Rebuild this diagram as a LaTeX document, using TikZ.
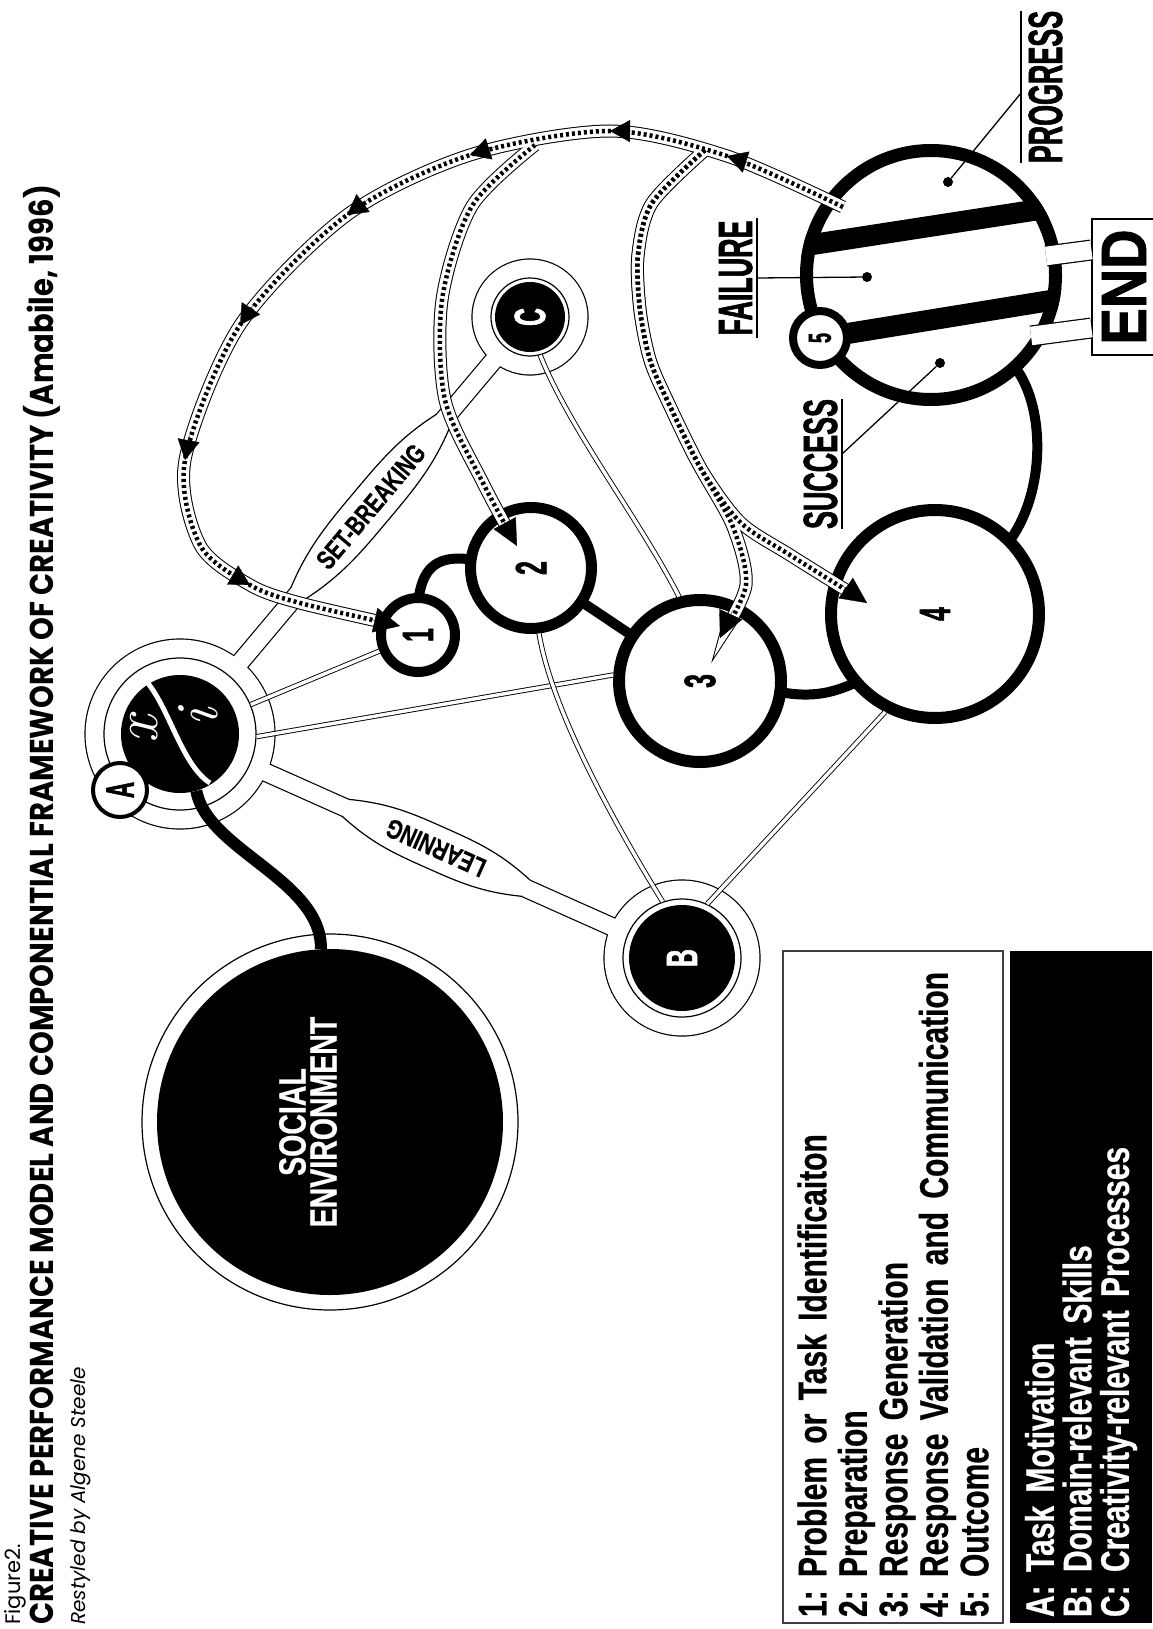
\documentclass[tikz,border=0pt]{standalone}
\usepackage{fontspec}
\usepackage{graphicx}
\newfontfamily\gothic[FakeStretch=0.56,FakeBold=1.2]{Liberation Sans Bold}
\newfontfamily\condfont[FakeStretch=0.75,FakeBold=0.6,WordSpace=0.8]{Liberation Sans Bold}
\newfontfamily\blockfont[FakeStretch=0.85,FakeBold=1.5]{Liberation Sans Bold}
\newfontfamily\titlefont[FakeStretch=0.88]{Poppins}
\newfontfamily\headfont{Poppins}
\usetikzlibrary{arrows.meta,calc}
\tikzset{
  midtip/.tip={Triangle[width=22pt,length=20pt]},
  endtip/.tip={Triangle[width=25pt,length=26pt]}
}
% feedback bands (drawn in passes)
\def\bandloop{plot[smooth] coordinates {($(out)+(-88,-68)$) (727,156) (610,131) (470,155) (347,215) (240,325) (185,460) (200,545) (250,585) (300,603) ($(c1)+(-18,-9)$)}}
\def\bandtwo{plot[smooth] coordinates {(fork2) (472,206) (442,300) (445,400) (483,483) ($(c2)+(-14,-22)$)}}
\def\bandthree{plot[smooth] coordinates {(fork34) (652,203) (638,255) (640,310) (650,360) (668,402) (700,467) (733,527) (746,585) ($(c3)+(20,-43)$)}}
\def\bandfour{plot[smooth] coordinates {(fork34) (652,203) (638,255) (640,310) (650,360) (668,402) (700,467) (740,522) (790,555) ($(c4)+(-68,-11)$)}}
\begin{document}
\begin{tikzpicture}[x=1pt,y=-1pt,
  lbl/.style={rotate=90,inner sep=0pt},
  stage/.style={circle,draw,fill=white,inner sep=0pt,font=\gothic\fontsize{44}{44}\selectfont},
  hubring/.style={circle,draw,line width=1.2pt,fill=white,inner sep=0pt},
  hubdisk/.style={circle,fill=black,inner sep=0pt,text=white,font=\gothic\fontsize{44}{44}\selectfont},
  link/.style={double=white,double distance=3.4pt,line width=0.9pt},
  bond/.style={line width=10pt,shorten <=-3pt,shorten >=-3pt},
  tag/.style={lbl,font=\gothic\fontsize{48}{48}\selectfont},
  rule/.style={line width=1.3pt},
  dot/.style={circle,fill,inner sep=0pt,minimum size=10pt},
  bar/.style={line width=21pt},
  lens/.style={line width=1.2pt},
  flow/.style={line width=0.3pt,-midtip},
  flowend/.style={line width=0.3pt,-endtip},
  tubetext/.style={font=\condfont\fontsize{27}{27}\selectfont,inner sep=0pt},
  legend/.style={lbl,minimum width=672pt,text width=660pt,inner xsep=6pt,align=left,font=\condfont\fontsize{40}{40.5}\selectfont\frenchspacing}]
\fill[white] (0,0) rectangle (1152,1629);
\useasboundingbox (0,0) rectangle (1152,1629);

% heading
\node[lbl,anchor=base west,font=\headfont\fontsize{21}{21}\selectfont] (fig) at (20,1625) {Figure2.};
\node[lbl,anchor=base west,font=\titlefont\bfseries\fontsize{33}{33}\selectfont] (title) at (53,1625) {CREATIVE PERFORMANCE MODEL AND COMPONENTIAL FRAMEWORK OF CREATIVITY (Amabile, 1996)};
\node[lbl,anchor=base west,font=\headfont\itshape\fontsize{20}{20}\selectfont] (credit) at (85,1625) {Restyled by Algene Steele};

% social environment
\draw[line width=1.2pt] (330,1122) circle (188pt);
\node[hubdisk,minimum size=346pt] (soc) at (330,1122) {};
\node[lbl,text=white,align=center,font=\condfont\fontsize{38}{31}\selectfont] (soctext) at (308,1122) {SOCIAL\\ENVIRONMENT};

% component hubs with their tubes
\coordinate (a) at (180,734);
\coordinate (b) at (682,958);
\coordinate (c) at (530,317);
\fill (a) circle (95.6pt) (b) circle (78.6pt) (c) circle (58.6pt);
\draw[line width=19.4pt] (a) -- (c) (a) -- (b);
\fill[white] (a) circle (94.4pt) (b) circle (77.4pt) (c) circle (57.4pt);
\draw[line width=17pt,white] (a) -- (c) (a) -- (b);
\begin{scope}[shift={(a)},rotate=50]
  \fill[white] (183,-9) .. controls (225,-22) and (255,-22) .. (297,-22) .. controls (339,-22) and (369,-22) .. (410,-9) -- (410,9) .. controls (369,22) and (339,22) .. (297,22) .. controls (255,22) and (225,22) .. (183,9) -- cycle;
  \draw[lens] (183,-9) .. controls (225,-22) and (255,-22) .. (297,-22) .. controls (339,-22) and (369,-22) .. (410,-9);
  \draw[lens] (183,9) .. controls (225,22) and (255,22) .. (297,22) .. controls (339,22) and (369,22) .. (410,9);
  \node[tubetext,rotate=50] (setbreak) at (297,0) {SET-BREAKING};
\end{scope}
\begin{scope}[shift={(a)},rotate=-24]
  \fill[white] (181,-9) .. controls (220,-22) and (245,-22) .. (280,-22) .. controls (315,-22) and (340,-22) .. (379,-9) -- (379,9) .. controls (340,22) and (315,22) .. (280,22) .. controls (245,22) and (220,22) .. (181,9) -- cycle;
  \draw[lens] (181,-9) .. controls (220,-22) and (245,-22) .. (280,-22) .. controls (315,-22) and (340,-22) .. (379,-9);
  \draw[lens] (181,9) .. controls (220,22) and (245,22) .. (280,22) .. controls (315,22) and (340,22) .. (379,9);
  \node[tubetext,rotate=156] (learning) at (280,0) {LEARNING};
\end{scope}
\node[hubring,minimum size=152pt] (Ai) at (a) {};
\node[hubdisk,minimum size=118pt] (Ax) at (a) {};
\node[hubring,minimum size=118pt] (Bi) at (b) {};
\node[hubdisk,minimum size=106pt] (B) at (b) {\rotatebox{90}{B}};
\node[hubring,minimum size=78pt] (Ci) at (c) {};
\node[hubdisk,minimum size=70pt] (C) at (c) {\rotatebox{90}{C}};
\draw[white,line width=5pt] (147,682) .. controls (170,710) and (182,765) .. (210,783);
\node[lbl,text=white,font=\rmfamily\itshape\fontsize{62}{62}\selectfont] (xsym) at (144,730) {x};
\node[lbl,text=white,font=\rmfamily\itshape\fontsize{60}{60}\selectfont] (isym) at (198,717) {i};
\node[circle,draw,line width=4pt,fill=white,minimum size=54pt,inner sep=0pt,font=\gothic\fontsize{40}{40}\selectfont] (Atag) at (120,790) {\rotatebox{90}{A}};

% stages
\node[stage,line width=10pt,minimum size=74pt] (c1) at (418,635) {\rotatebox{90}{1}};
\node[stage,line width=11pt,minimum size=121pt] (c2) at (531,568) {\rotatebox{90}{2}};
\node[stage,line width=12pt,minimum size=162pt] (c3) at (700,681) {\rotatebox{90}{3}};
\node[stage,line width=12pt,minimum size=208pt] (c4) at (935,614) {\rotatebox{90}{4}};
\node[stage,line width=13pt,minimum size=249pt] (out) at (931,275) {};
\node[stage,line width=8pt,minimum size=54pt,font=\gothic\fontsize{32}{32}\selectfont] (c5) at (820,338) {\rotatebox{90}{5}};
\node[lbl,draw,line width=1.2pt,fill=white,minimum width=136pt,minimum height=62pt,text height=46pt,text depth=0pt,font=\blockfont\fontsize{64}{64}\selectfont] (endbox) at (1123,287) {END};

% stage bonds
\draw[bond] (c1.88) .. controls (424,565) and (440,556) .. (c2.172);
\draw[bond] (c2) -- (c3);
\draw[bond] (c3.-8) .. controls (810,697) and (830,694) .. (c4.220);
\draw[bond] (c4.45) .. controls (1045,490) and (1045,410) .. (out.-48);

% component links
\draw[link] (Ai) -- (c1);
\draw[link] (Ai.-2) -- (c3.176);
\draw[link] (Bi.109) .. controls (600,800) and (550,700) .. (c2.-83);
\draw[link] (Bi.65) -- (c4.243);
\draw[link] (Ci.-75) .. controls (570,430) and (640,520) .. (c3.104);

% outcome split and exits
\begin{scope}
  \clip (out.center) circle (131pt);
  \draw[bar] (790,248) -- (1062,206);
  \draw[bar,shorten <=-4pt] (c5) -- (1072,297);
\end{scope}
\coordinate (failexit) at (1046,256);
\coordinate (succexit) at (1031,336);
\foreach \lw/\col in {21pt/black,18.6pt/white}
  \draw[line width=\lw,\col] (failexit) -- ($(endbox.north)+(0,-37)$) (succexit) -- ($(endbox.north)+(0,41)$);

% outcome labels
\node[tag,anchor=base] (fail) at (752,278) {FAILURE};
\node[tag,anchor=base] (succ) at (837,464) {SUCCESS};
\node[tag,anchor=base] (prog) at (1062,87) {PROGRESS};
\node[dot] (faildot) at (867,277) {};
\node[dot] (succdot) at (940,363) {};
\node[dot] (progdot) at (948,182) {};
\draw[rule] ($(fail.base west)+(5,2)$) -- ($(fail.base east)+(5,-2)$);
\draw[rule] ($(succ.base west)+(5,0)$) -- ($(succ.base east)+(5,0)$);
\draw[rule] ($(prog.base west)+(-41,0)$) -- ($(prog.base east)+(-41,0)$);
\draw[rule] ($(fail.base)+(5,0)$) -- (faildot);
\draw[rule] ($(succ.base)+(5,-10)$) -- (succdot);
\draw[rule] ($(prog.base)+(-41,6)$) -- (progdot);

% feedback bands
\coordinate (fork2) at (535,145);
\coordinate (fork34) at (705,150);
\foreach \lw/\col in {13pt/black,11pt/white}
  \foreach \p in {\bandloop,\bandtwo,\bandthree,\bandfour}
    \draw[line width=\lw,\col,shorten >=20pt] \p;
\foreach \p in {\bandloop,\bandtwo,\bandthree,\bandfour}
  \draw[line width=4.5pt,dash pattern=on 3pt off 3pt,shorten >=20pt] \p;
% heads along the loop
\draw[flow] (750.8,163.6) -- (727,156);
\draw[flow] (635,131.1) -- (610,131);
\draw[flow] (493.8,147.4) -- (470,155);
\draw[flow] (367.1,200.1) -- (347,215);
\draw[flow] (253.8,304.1) -- (240,325);
\draw[flow] (189.5,435.4) -- (185,460);
\draw[flow] (228.4,572.5) -- (250,585);
\draw[flowend] (370.8,619.3) -- ($(c1)+(-18,-9)$);
\draw[flowend] (502.8,519.6) -- ($(c2)+(-14,-22)$);
\draw[flowend] (732.4,610.7) -- ($(c3)+(20,-43)$);
\draw[flowend] (842.4,585.7) -- ($(c4)+(-68,-11)$);

% social environment feeds motivation
\draw[line width=12pt] (Ax.-74) .. controls (207,850) and (322,880) .. (soc.93);

% legend
\node[legend,draw=black!75,line width=2pt,fill=white,minimum height=220pt] (stages) at (893,1287) {1: Problem or Task Identificaiton\\2: Preparation\\3: Response Generation\\4: Response Validation and Communication\\5: Outcome};
\node[legend,fill=black,text=white,minimum height=142pt,font=\condfont\fontsize{40}{37.5}\selectfont\frenchspacing] (parts) at (1081,1287) {A: Task Motivation\\B: Domain-relevant Skills\\C: Creativity-relevant Processes};
\end{tikzpicture}
\end{document}
